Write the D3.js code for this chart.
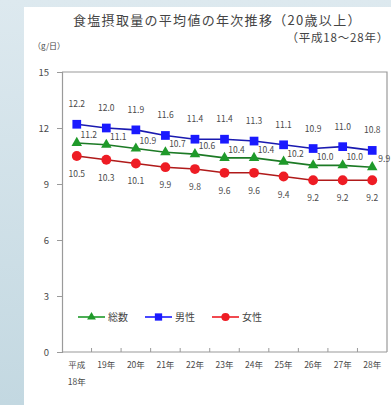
<!DOCTYPE html>
<html>
<head>
<meta charset="utf-8">
<script src="https://cdn.jsdelivr.net/npm/d3@7"></script>
<style>
  html, body { margin: 0; padding: 0; }
  svg { display: block; }
</style>
</head>
<body>
<script>
// Survey years (Heisei 18–28) and mean daily salt intake, g/day
const years = ["平成18年", "19年", "20年", "21年", "22年", "23年", "24年", "25年", "26年", "27年", "28年"];
const total = [11.2, 11.1, 10.9, 10.7, 10.6, 10.4, 10.4, 10.2, 10.0, 10.0, 9.9];
const male = [12.2, 12.0, 11.9, 11.6, 11.4, 11.4, 11.3, 11.1, 10.9, 11.0, 10.8];
const female = [10.5, 10.3, 10.1, 9.9, 9.8, 9.6, 9.6, 9.4, 9.2, 9.2, 9.2];
const yTicks = [0, 3, 6, 9, 12, 15];
const seriesNames = ["総数", "男性", "女性"];

const W = 391, H = 405;
const FONT = "'Noto Sans CJK JP', 'Noto Sans', sans-serif";
const TEXT = "#4a4a4a";

const svg = d3.select("body").append("svg")
  .attr("width", W).attr("height", H)
  .style("font-family", FONT);

// soft blue page background with a white card on top
const defs = svg.append("defs");
const grad = defs.append("linearGradient").attr("id", "bg")
  .attr("x1", 0).attr("y1", 0).attr("x2", 0).attr("y2", 1);
grad.append("stop").attr("offset", "0%").attr("stop-color", "#dde9ef");
grad.append("stop").attr("offset", "100%").attr("stop-color", "#c3d8e1");
svg.append("rect").attr("width", W).attr("height", H).attr("fill", "url(#bg)");
svg.append("rect").attr("x", 24).attr("y", 7).attr("width", W - 24).attr("height", H - 7).attr("fill", "#fff");

// plot area
const plot = { left: 62, right: 387, top: 72, bottom: 352 };

const x = d3.scaleBand().domain(years).range([plot.left, plot.right]);
const y = d3.scaleLinear().domain([0, 15]).range([plot.bottom, plot.top]);
const cx = i => x(years[i]) + x.bandwidth() / 2;

// titles
svg.append("text").attr("x", 73).attr("y", 25)
  .attr("font-size", 13).attr("letter-spacing", 1.3).attr("fill", "#444")
  .text("食塩摂取量の平均値の年次推移（20歳以上）");
svg.append("text").attr("x", 389).attr("y", 42).attr("text-anchor", "end")
  .attr("font-size", 11.5).attr("letter-spacing", 0.8).attr("fill", "#444")
  .text("（平成18〜28年）");
svg.append("text").attr("x", 33).attr("y", 49)
  .attr("font-size", 8).attr("fill", "#444").text("（g/日）");

// frame of the plot area (top and right sides)
svg.append("path")
  .attr("d", `M${plot.left},${plot.top}H${plot.right}V${plot.bottom}`)
  .attr("fill", "none").attr("stroke", "#9a9a9a").attr("stroke-width", 1.2);

// y axis
const yAxis = svg.append("g").attr("transform", `translate(${plot.left},0)`)
  .call(d3.axisLeft(y).tickValues(yTicks).tickSize(5).tickPadding(8));
yAxis.select(".domain").attr("stroke", "#9a9a9a").attr("stroke-width", 1.2);
yAxis.selectAll(".tick line").attr("stroke", "#9a9a9a");
yAxis.selectAll(".tick text").attr("font-size", 9.5).attr("fill", TEXT).attr("font-family", FONT);

// x axis: inside ticks on category boundaries, labels centred under each year
const xAxis = svg.append("g").attr("transform", `translate(0,${plot.bottom})`);
xAxis.append("line").attr("x1", plot.left).attr("x2", plot.right)
  .attr("stroke", "#9a9a9a").attr("stroke-width", 1.2);
xAxis.selectAll("line.tk").data(years.slice(1)).join("line").attr("class", "tk")
  .attr("x1", d => x(d)).attr("x2", d => x(d)).attr("y1", 0).attr("y2", -4)
  .attr("stroke", "#9a9a9a");
years.forEach((d, i) => {
  const t = xAxis.append("text").attr("text-anchor", "middle")
    .attr("font-size", 8.5).attr("fill", TEXT);
  if (i === 0) {
    t.append("tspan").attr("x", cx(i)).attr("y", 16).text("平成");
    t.append("tspan").attr("x", cx(i)).attr("y", 33).text("18年");
  } else {
    t.attr("x", cx(i)).attr("y", 16).text(d);
  }
});

// series definitions
const series = [
  { name: seriesNames[0], values: total, color: "#1f9a2a", line: "#1c7a25", symbol: d3.symbolTriangle, size: 48, dx: 12, dy: -5 },
  { name: seriesNames[1], values: male, color: "#1a1aff", line: "#1a1ab0", symbol: d3.symbolSquare, size: 76, dx: 0, dy: -17 },
  { name: seriesNames[2], values: female, color: "#ee1c24", line: "#b01a1a", symbol: d3.symbolCircle, size: 76, dx: 0, dy: 21 }
];

const line = d3.line().x((d, i) => cx(i)).y(d => y(d));

series.forEach(s => {
  const g = svg.append("g");
  g.append("path").datum(s.values).attr("d", line)
    .attr("fill", "none").attr("stroke", s.line).attr("stroke-width", 1.6);
  g.selectAll("path.m").data(s.values).join("path").attr("class", "m")
    .attr("d", d3.symbol().type(s.symbol).size(s.size))
    .attr("transform", (d, i) => `translate(${cx(i)},${y(d)})`)
    .attr("fill", s.color);
  g.selectAll("text").data(s.values).join("text")
    .attr("x", (d, i) => cx(i) + s.dx).attr("y", d => y(d) + s.dy)
    .attr("text-anchor", "middle").attr("font-size", 8.5).attr("fill", TEXT)
    .text(d => d.toFixed(1));
});

// legend
const legendX = [78, 145, 212];
series.forEach((s, k) => {
  const g = svg.append("g").attr("transform", `translate(${legendX[k]},317)`);
  g.append("line").attr("x1", 0).attr("x2", 27).attr("stroke", s.color).attr("stroke-width", 1.6);
  g.append("path").attr("d", d3.symbol().type(s.symbol).size(s.size * 0.7))
    .attr("transform", "translate(13.5,0)").attr("fill", s.color);
  g.append("text").attr("x", 30).attr("y", 4).attr("font-size", 10).attr("fill", "#444").text(s.name);
});
</script>
</body>
</html>
